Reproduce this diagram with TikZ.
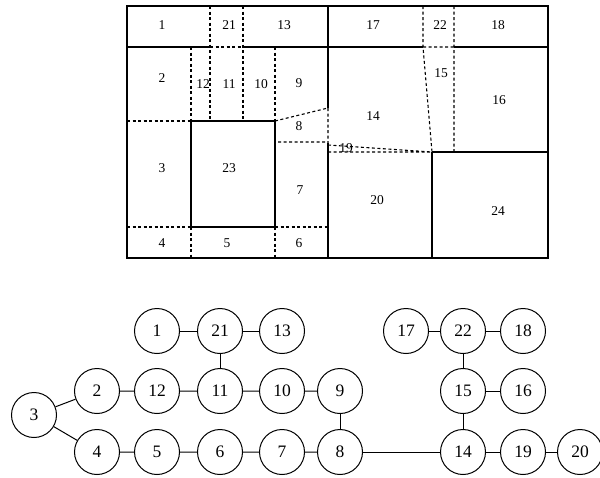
\documentclass[tikz,border=0pt]{standalone}
\usepackage{fontspec}
\setmainfont{Liberation Serif}
\begin{document}
\begin{tikzpicture}[x=1pt, y=-1pt,
    wall/.style={line width=1.7pt},
    part/.style={line width=1.1pt, dash pattern=on 3pt off 2.5pt},
    lbl/.style={inner sep=0pt, font=\fontsize{13.5}{13.5}\selectfont},
    room/.style={circle, draw, line width=1pt, minimum size=45pt,
        inner sep=0pt, font=\fontsize{17.5}{17.5}\selectfont},
    link/.style={line width=1pt}
]
\useasboundingbox (0,0) rectangle (600,477);
% floor plan: walls
\draw[wall] (127,6) rectangle (548,258);
\draw[wall] (127,47) -- (210,47) (243,47) -- (423,47) (454,47) -- (548,47);
\draw[wall] (328,6) -- (328,108) (328,143) -- (328,258);
\draw[wall] (191,121) rectangle (275,227);
\draw[wall] (432,152) -- (548,152) (432,152) -- (432,258);
% floor plan: partitions
\draw[part] (127,121) -- (191,121) (127,227) -- (191,227) (275,227) -- (328,227);
\draw[part] (191,47) -- (191,121) (191,227) -- (191,258) (275,227) -- (275,258);
\draw[part] (275,47) -- (275,121) (210,6) -- (210,121) (243,6) -- (243,121);
\draw[part] (210,47) -- (243,47);
\draw[part] (275,121) -- (328,108) (278,142) -- (328,142) (328,108) -- (328,143);
\draw[part] (423,6) -- (423,47) -- (432,152) (454,6) -- (454,152) (423,47) -- (454,47);
\draw[part] (328,145) -- (432,152) (328,152) -- (432,152);
% floor plan: labels
\node[lbl] (r1) at (162,25) {1};
\node[lbl] (r21) at (229,25) {21};
\node[lbl] (r13) at (284,25) {13};
\node[lbl] (r17) at (373,25) {17};
\node[lbl] (r22) at (440,25) {22};
\node[lbl] (r18) at (498,25) {18};
\node[lbl] (r2) at (162,78) {2};
\node[lbl] (r12) at (203,84) {12};
\node[lbl] (r11) at (229,84) {11};
\node[lbl] (r10) at (261,84) {10};
\node[lbl] (r9) at (299,83) {9};
\node[lbl] (r15) at (441,73) {15};
\node[lbl] (r16) at (499,100) {16};
\node[lbl] (r14) at (373,116) {14};
\node[lbl] (r8) at (299,126) {8};
\node[lbl] (r19) at (346,148) {19};
\node[lbl] (r3) at (162,168) {3};
\node[lbl] (r23) at (229,168) {23};
\node[lbl] (r7) at (300,190) {7};
\node[lbl] (r20) at (377,200) {20};
\node[lbl] (r24) at (498,211) {24};
\node[lbl] (r4) at (162,243) {4};
\node[lbl] (r5) at (227,243) {5};
\node[lbl] (r6) at (299,243) {6};
% adjacency graph
\node[room] (n1) at (157,331) {1};
\node[room] (n21) at (220,331) {21};
\node[room] (n13) at (282,331) {13};
\node[room] (n17) at (406,331) {17};
\node[room] (n22) at (463,331) {22};
\node[room] (n18) at (523,331) {18};
\node[room] (n2) at (97,391) {2};
\node[room] (n12) at (157,391) {12};
\node[room] (n11) at (220,391) {11};
\node[room] (n10) at (282,391) {10};
\node[room] (n9) at (340,391) {9};
\node[room] (n15) at (463,391) {15};
\node[room] (n16) at (523,391) {16};
\node[room] (n3) at (34,415) {3};
\node[room] (n4) at (97,452) {4};
\node[room] (n5) at (157,452) {5};
\node[room] (n6) at (220,452) {6};
\node[room] (n7) at (282,452) {7};
\node[room] (n8) at (340,452) {8};
\node[room] (n14) at (463,452) {14};
\node[room] (n19) at (523,452) {19};
\node[room] (n20) at (580,452) {20};
\draw[link] (n1) -- (n21) (n21) -- (n13) (n21) -- (n11);
\draw[link] (n3) -- (n2) (n2) -- (n12) (n12) -- (n11) (n11) -- (n10) (n10) -- (n9);
\draw[link] (n9) -- (n8);
\draw[link] (n3) -- (n4) (n4) -- (n5) (n5) -- (n6) (n6) -- (n7) (n7) -- (n8);
\draw[link] (n8) -- (n14);
\draw[link] (n17) -- (n22) (n22) -- (n18) (n22) -- (n15) (n15) -- (n16) (n15) -- (n14);
\draw[link] (n14) -- (n19) (n19) -- (n20);
\end{tikzpicture}
\end{document}
